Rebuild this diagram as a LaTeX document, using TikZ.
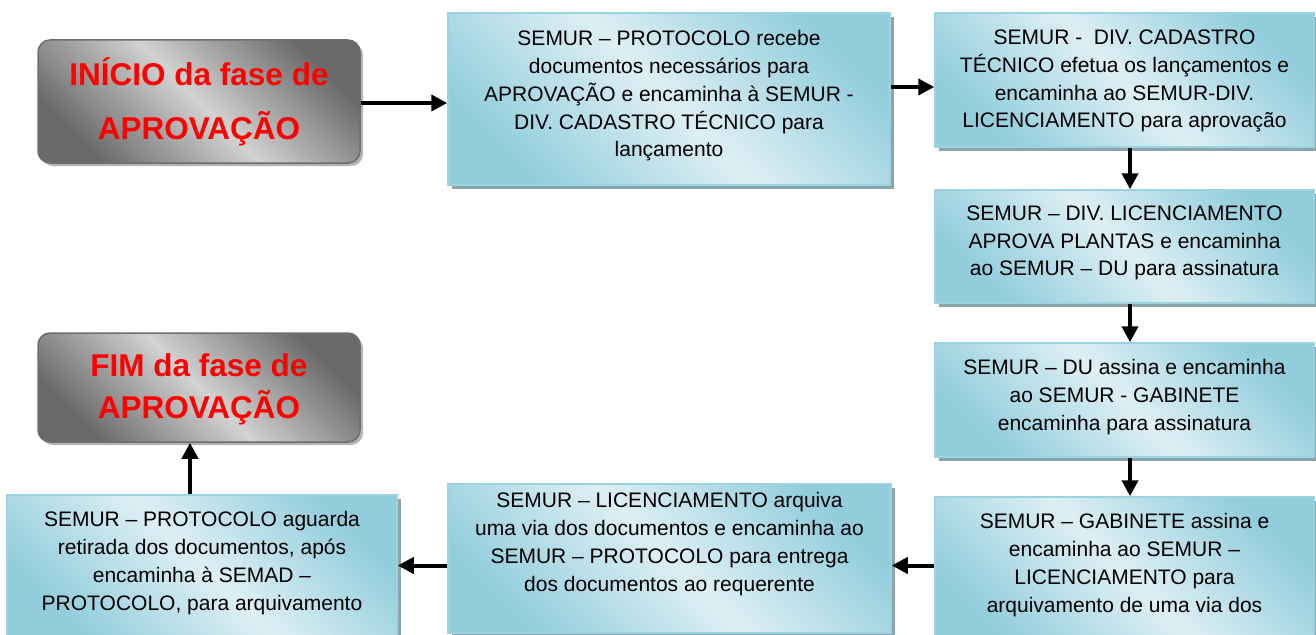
\documentclass[tikz,border=0pt]{standalone}
\usepackage{fontspec}
\setmainfont{Liberation Sans}
\usetikzlibrary{shadows,arrows.meta}
\definecolor{bdark}{HTML}{92CDDC}
\definecolor{blight}{HTML}{DDEFF4}
\definecolor{bborder}{HTML}{9DD2E0}
\definecolor{bshadow}{HTML}{8BA4AE}
\definecolor{gdark}{HTML}{6A6A6A}
\definecolor{glight}{HTML}{D2D2D2}
\definecolor{gborder}{HTML}{6E6E6E}
\definecolor{gshadow}{HTML}{B4B4B4}
\definecolor{redtxt}{HTML}{FF0000}
\begin{document}
\begin{tikzpicture}[x=1pt,y=-1pt,
  bbox/.style={draw=bborder, line width=1.5pt, top color=bdark, bottom color=bdark, middle color=blight, shading angle=-45,
    drop shadow={shadow xshift=4pt, shadow yshift=-4pt, fill=bshadow, opacity=1}, inner sep=0pt},
  gbox/.style={draw=gborder, line width=1.5pt, rounded corners=12pt, top color=gdark, bottom color=gdark, middle color=glight, shading angle=-45,
    drop shadow={shadow xshift=3pt, shadow yshift=-3pt, fill=gshadow, opacity=1}, inner sep=0pt},
  txt/.style={align=center, inner sep=0pt, font=\fontsize{21}{27.8}\selectfont},
  stxt/.style={align=center, inner sep=0pt, text=redtxt, font=\bfseries\fontsize{31.5}{#1}\selectfont},
  arr/.style={line width=4pt, -{Triangle[length=16pt,width=16pt]}}
]
\useasboundingbox (0,0) rectangle (1316,634);
% boxes
\node[gbox, minimum width=322pt, minimum height=123pt] (start) at (199,101.5) {};
\node[bbox, minimum width=442pt, minimum height=172pt] (b1) at (669,99) {};
\node[bbox, minimum width=379pt, minimum height=134pt] (b2) at (1124.5,80) {};
\node[bbox, minimum width=379pt, minimum height=113pt] (b3) at (1124.5,246.5) {};
\node[bbox, minimum width=379pt, minimum height=114pt] (b4) at (1124.5,400) {};
\node[bbox, minimum width=379pt, minimum height=150pt] (b5) at (1124.5,572) {};
\node[bbox, minimum width=443pt, minimum height=149pt] (b6) at (669.5,558.5) {};
\node[bbox, minimum width=390pt, minimum height=141pt] (b7) at (202,565.5) {};
\node[gbox, minimum width=322pt, minimum height=109pt] (end) at (199,387.5) {};
% texts
\node[stxt=54pt] (ts) at (199,102) {INÍCIO da fase de\\APROVAÇÃO};
\node[stxt=42pt] (te) at (199,389) {FIM da fase de\\APROVAÇÃO};
\node[txt] (t1) at (669,96) {SEMUR – PROTOCOLO recebe\\documentos necessários para\\APROVAÇÃO e encaminha à SEMUR -\\DIV. CADASTRO TÉCNICO para\\lançamento};
\node[txt] (t2) at (1124.5,81) {SEMUR -\ \ DIV. CADASTRO\\TÉCNICO efetua os lançamentos e\\encaminha ao SEMUR-DIV.\\LICENCIAMENTO para aprovação};
\node[txt] (t3) at (1124.5,243) {SEMUR – DIV. LICENCIAMENTO\\APROVA PLANTAS e encaminha\\ao SEMUR – DU para assinatura};
\node[txt] (t4) at (1124.5,397) {SEMUR – DU assina e encaminha\\ao SEMUR - GABINETE\\encaminha para assinatura};
\node[txt] (t5) at (1124.5,565) {SEMUR – GABINETE assina e\\encaminha ao SEMUR –\\LICENCIAMENTO para\\arquivamento de uma via dos};
\node[txt] (t6) at (669.5,544) {SEMUR – LICENCIAMENTO arquiva\\uma via dos documentos e encaminha ao\\SEMUR – PROTOCOLO para entrega\\dos documentos ao requerente};
\node[txt] (t7) at (202,563) {SEMUR – PROTOCOLO aguarda\\retirada dos documentos, após\\encaminha à SEMAD –\\PROTOCOLO, para arquivamento};
% connectors
\draw[arr] ([yshift=-1.5pt]start.east) -- ([yshift=-1.5pt]b1.west |- start.east);
\draw[arr] ([yshift=-7pt]b1.east |- b2.west) -- ([yshift=-7pt]b2.west);
\draw[arr] ([xshift=5.5pt]b2.south) -- ([xshift=5.5pt]b3.north);
\draw[arr] ([xshift=5.5pt]b3.south) -- ([xshift=5.5pt]b4.north);
\draw[arr] ([xshift=5.5pt]b4.south) -- ([xshift=5.5pt]b5.north);
\draw[arr] (b5.west |- b7.east) -- (b6.east |- b7.east);
\draw[arr] (b6.west |- b7.east) -- (b7.east);
\draw[arr] ([xshift=-12pt]b7.north) -- ([xshift=-12pt]b7.north |- end.south);
\end{tikzpicture}
\end{document}
